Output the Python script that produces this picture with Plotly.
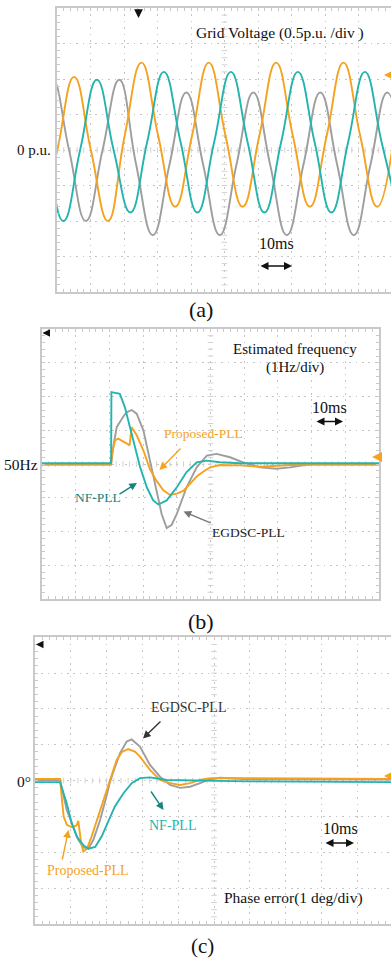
import numpy as np
import plotly.graph_objects as go

W, H = 391, 961

ORANGE = "#F5A21F"
TEAL = "#23B4AF"
GRAY = "#9E9E9E"
TEAL_DARK = "#14857F"
BORDER = "#C9C9C9"
GRID = "#C4C4C4"
SERIF = "Liberation Serif"

# ---------- (a) grid voltage, samples every quarter period: time [ms], voltage [p.u.]
va_t = [-4.9, 0.1, 5.1, 10.1, 15.2, 20.2, 25.2, 30.2, 35.3, 40.3, 45.3, 50.3,
        55.4, 60.4, 65.4, 70.4, 75.5, 80.5, 85.5, 90.5, 95.6, 100.6]
va_v = [-1.0, 0.0, 1.03, 0.0, -1.0, 0.2, 1.23, 0.2, -0.8, 0.2, 1.23, 0.2,
        -0.8, 0.2, 1.23, 0.2, -0.8, 0.2, 1.23, 0.2, -0.8, 0.2]

vb_t = [-8.1, -3.1, 1.9, 6.9, 11.9, 16.9, 21.9, 26.9, 31.9, 36.9, 41.9, 46.9,
        51.9, 56.9, 61.9, 66.9, 71.9, 76.9, 81.9, 86.9, 91.9, 96.9, 101.9]
vb_v = [1.0, 0.0, -1.0, 0.0, 0.99, 0.0, -0.88, 0.11, 1.1, 0.11, -0.88, 0.11,
        1.1, 0.11, -0.88, 0.11, 1.1, 0.11, -0.88, 0.11, 1.1, 0.11, -0.88]

vc_t = [-6.4, -1.4, 3.6, 8.6, 13.6, 18.6, 23.6, 28.6, 33.6, 38.6, 43.6, 48.6,
        53.6, 58.6, 63.6, 68.6, 73.6, 78.6, 83.6, 88.6, 93.6, 98.6, 103.6]
vc_v = [0.0, 1.0, 0.0, -1.0, 0.0, 0.99, -0.2, -1.2, -0.2, 0.81, -0.2, -1.2,
        -0.2, 0.81, -0.2, -1.2, -0.2, 0.81, -0.2, -1.2, -0.2, 0.81, -0.2]

# ---------- (b) estimated frequency: time [ms], frequency [Hz]
nf_f_t = [0, 20.5, 20.6, 23.1, 24.6, 26.1, 27.6, 29.1, 31.1, 33.0, 34.5, 37.0,
          40.0, 42.9, 45.9, 48.9, 52.8, 58.8, 100]
nf_f_v = [50.02, 50.02, 52.13, 52.08, 51.68, 51.09, 50.5, 49.91, 49.31, 48.92,
          48.8, 48.92, 49.31, 49.76, 50.05, 50.1, 50.05, 50.02, 50.02]

pr_f_t = [0, 20.5, 20.8, 21.7, 22.6, 23.6, 24.6, 25.6, 26.0, 26.6, 28.1, 30.1,
          32.0, 34.0, 36.0, 38.0, 40.0, 41.9, 43.9, 45.9, 47.9, 49.9, 52.8,
          58.8, 64.7, 73.6, 80, 100]
pr_f_v = [49.98, 49.98, 50.35, 50.7, 50.75, 50.7, 50.65, 50.58, 50.55, 51.09,
          50.85, 50.4, 49.85, 49.5, 49.22, 49.08, 49.12, 49.2, 49.41, 49.63,
          49.78, 49.9, 49.97, 49.96, 49.92, 49.97, 49.98, 49.98]

eg_f_t = [0, 20.5, 21.3, 22.2, 24.1, 25.1, 26.6, 28.1, 30.1, 32.0, 34.0, 35.5,
          37.0, 38.5, 40.0, 42.9, 45.9, 48.9, 51.8, 55.8, 59.7, 64.7, 69.6,
          73.6, 80, 100]
eg_f_v = [50.0, 50.0, 50.6, 51.1, 51.4, 51.53, 51.6, 51.49, 50.99, 50.1, 49.21,
          48.52, 48.1, 48.2, 48.52, 49.31, 49.9, 50.25, 50.3, 50.2, 50.05, 49.9,
          49.86, 49.9, 50.0, 50.0]

# ---------- (c) phase error: time [ms], error [deg]
nf_p_t = [0, 7.0, 8.85, 10.25, 11.65, 13.5, 14.9, 16.8, 18.6, 20.5, 22.3, 24.7,
          27.0, 29.3, 32.1, 36.8, 60, 99.4]
nf_p_v = [-0.04, -0.04, -0.63, -1.19, -1.56, -1.8, -1.9, -1.85, -1.56, -1.14,
          -0.72, -0.35, -0.07, 0.07, 0.09, 0.02, -0.02, -0.04]

pr_p_t = [0, 7.0, 7.4, 8.0, 8.9, 10.3, 11.6, 12.1, 12.5, 12.9, 13.5, 14.5, 15.8,
          18.2, 20.5, 22.8, 24.3, 26.0, 27.9, 29.3, 32.1, 34.9, 37.7, 40.5,
          43.3, 46.1, 48.9, 51.7, 60, 99.4]
pr_p_v = [0.05, 0.05, -0.4, -1.0, -1.23, -1.3, -1.25, -1.12, -1.45, -1.75,
          -1.98, -1.9, -1.56, -0.82, -0.07, 0.58, 0.8, 0.88, 0.81, 0.67, 0.3,
          0.02, -0.07, -0.12, -0.07, 0.02, 0.07, 0.07, 0.05, 0.05]

eg_p_t = [0, 7.0, 8.85, 10.7, 12.1, 13.5, 14.9, 16.3, 18.2, 20.0, 20.9, 21.9,
          23.7, 25.6, 27.0, 29.3, 32.1, 34.9, 37.7, 40.5, 43.3, 46.1, 48.9,
          51.7, 60, 99.4]
eg_p_v = [0.02, 0.02, -0.82, -1.28, -1.65, -1.86, -1.9, -1.65, -1.09, -0.42,
          -0.05, 0.25, 0.76, 1.09, 1.15, 0.95, 0.44, 0.11, -0.12, -0.2, -0.17,
          -0.07, 0.04, 0.08, 0.04, 0.03]


def px(x):
    return x / W


def py(y):
    return 1 - y / H


# Scope screens: pixel boxes (left, top, right, bottom), axis ranges and steps
panels = [
    dict(x="x", y="y", box=(57, 8, 391, 292), xr=(0, 99.7), yr=(-2, 2),
         ydt=0.5, right=False),
    dict(x="x2", y="y2", box=(42, 329, 379, 599), xr=(0, 100), yr=(46, 54),
         ydt=1, right=True),
    dict(x="x3", y="y3", box=(35, 637.3, 391, 924), xr=(0, 99.4), yr=(-4, 4),
         ydt=1, right=False),
]

fig = go.Figure()
layout = {}
for i, p in enumerate(panels, start=1):
    l, t, r, b = p["box"]
    sx = "" if i == 1 else str(i)
    common = dict(
        showline=True, linecolor=BORDER, linewidth=1.5,
        showgrid=True, gridcolor=GRID, gridwidth=1, griddash="1.6px,4.8px",
        zeroline=False, showticklabels=False, ticks="inside", ticklen=3,
        tickcolor=BORDER, tickwidth=1, fixedrange=True,
    )
    layout["xaxis" + sx] = dict(
        common, domain=[px(l), px(r)], range=list(p["xr"]), tick0=0, dtick=10,
        minor=dict(ticks="inside", ticklen=3, tickcolor=BORDER, dtick=2,
                   showgrid=False),
        mirror="ticks", anchor=p["y"],
    )
    layout["yaxis" + sx] = dict(
        common, domain=[py(b), py(t)], range=list(p["yr"]), tick0=p["yr"][0],
        dtick=p["ydt"],
        minor=dict(ticks="inside", ticklen=3, tickcolor=BORDER,
                   dtick=p["ydt"] / 5, showgrid=False),
        mirror="ticks" if p["right"] else False, anchor=p["x"],
    )
    # small graduation marks along the two centre lines of the screen
    x0, x1 = p["xr"]
    y0, y1 = p["yr"]
    xm, ym = 50, (y0 + y1) / 2
    hx = np.arange(0, x1, 2)
    vy = np.arange(y0 + p["ydt"] / 5, y1, p["ydt"] / 5)
    fig.add_trace(go.Scatter(
        x=hx, y=np.full(hx.shape, ym), xaxis=p["x"], yaxis=p["y"],
        mode="markers", hoverinfo="skip", showlegend=False,
        marker=dict(symbol="line-ns", size=4, line=dict(width=1, color="#D2D2D2"))))
    fig.add_trace(go.Scatter(
        x=np.full(vy.shape, xm), y=vy, xaxis=p["x"], yaxis=p["y"],
        mode="markers", hoverinfo="skip", showlegend=False,
        marker=dict(symbol="line-ew", size=4, line=dict(width=1, color="#D2D2D2"))))


def trace(xs, ys, color, ax, ay, shape="linear"):
    fig.add_trace(go.Scatter(
        x=xs, y=ys, xaxis=ax, yaxis=ay, mode="lines", showlegend=False,
        line=dict(color=color, width=1.9, shape=shape,
                  smoothing=1.3 if shape == "spline" else None)))


# (a)
trace(vc_t, vc_v, GRAY, "x", "y", "spline")
trace(va_t, va_v, ORANGE, "x", "y", "spline")
trace(vb_t, vb_v, TEAL, "x", "y", "spline")
# (b)
trace(eg_f_t, eg_f_v, GRAY, "x2", "y2")
trace(pr_f_t, pr_f_v, ORANGE, "x2", "y2")
trace(nf_f_t, nf_f_v, TEAL, "x2", "y2")
# (c)
trace(eg_p_t, eg_p_v, GRAY, "x3", "y3")
trace(pr_p_t, pr_p_v, ORANGE, "x3", "y3")
trace(nf_p_t, nf_p_v, TEAL, "x3", "y3")


def label(x, y, s, color="#111111", size=13, xanchor="center"):
    fig.add_annotation(x=px(x), y=py(y), xref="paper", yref="paper", text=s,
                       showarrow=False, xanchor=xanchor, yanchor="middle",
                       font=dict(family=SERIF, size=size, color=color))


def arrow(x0, y0, x1, y1, color, width=1.5, head=2, size=1.0, both=False):
    # head at (x1, y1); tail given as a pixel offset from the head
    fig.add_annotation(x=px(x1), y=py(y1), ax=x0 - x1, ay=y0 - y1,
                       xref="paper", yref="paper", axref="pixel", ayref="pixel",
                       text="", showarrow=True, arrowhead=head, arrowsize=size,
                       arrowwidth=width, arrowcolor=color,
                       startarrowhead=head, startarrowsize=size,
                       arrowside="end+start" if both else "end")


# (a) texts and markers
label(280, 33, "Grid Voltage (0.5p.u. /div )", size=15.5)
label(53, 150, "0 p.u.", size=15, xanchor="right")
label(276, 243, "10ms", size=16)
arrow(259, 266, 292, 266, "#111111", width=1.6, size=1.0, both=True)
label(201, 309, "(a)", size=22)
arrow(138.5, 8, 138.5, 18, "#111111", width=1.6, size=1.1)
arrow(392, 75, 384, 75, ORANGE, width=2, size=1.0)

# (b) texts and markers
label(295, 349, "Estimated frequency", size=15)
label(295, 367, "(1Hz/div)", size=15)
label(329, 408, "10ms", size=16)
arrow(315, 421.5, 343, 421.5, "#111111", width=1.6, size=1.0, both=True)
label(40, 464, "50Hz", size=15.5, xanchor="right")
label(203, 433, "Proposed-PLL", ORANGE, size=13.5)
arrow(182, 447, 159.5, 470, ORANGE, width=1.4, size=1.1)
label(98, 497, "NF-PLL", TEAL_DARK, size=13.5)
arrow(118, 495, 137, 483, TEAL_DARK, width=1.4, size=1.1)
label(248, 532, "EGDSC-PLL", "#222222", size=13.5)
arrow(212, 523.5, 183.5, 511.5, "#777777", width=1.4, size=1.1)
label(201, 621, "(b)", size=22)
arrow(50, 333, 42.5, 333, "#111111", width=1.5, size=1.0)
arrow(381, 457, 372, 457, ORANGE, width=2, size=1.0)

# (c) texts and markers
label(188, 707, "EGDSC-PLL", "#333333", size=14)
arrow(162, 720, 143, 738.5, "#333333", width=1.4, size=1.1)
label(172, 825, "NF-PLL", TEAL, size=14)
arrow(150, 790, 163.5, 810, TEAL_DARK, width=1.4, size=1.1)
label(88, 870, "Proposed-PLL", ORANGE, size=14)
arrow(62, 861, 68.5, 830, ORANGE, width=1.4, size=1.1)
label(340, 828, "10ms", size=16)
arrow(324, 843, 354, 843, "#111111", width=1.6, size=1.0, both=True)
label(293, 898, "Phase error(1 deg/div)", size=15.5)
label(33, 781, "0°", size=15.5, xanchor="right")
label(202, 946, "(c)", size=21)
arrow(44.5, 644.5, 36, 644.5, "#111111", width=1.5, size=1.0)
arrow(392, 776, 384, 776, ORANGE, width=2, size=1.0)

fig.update_layout(
    width=W, height=H, margin=dict(l=0, r=0, t=0, b=0),
    paper_bgcolor="white", plot_bgcolor="white", showlegend=False,
    **layout,
)

fig.write_html("out.html", config={"displayModeBar": False})
